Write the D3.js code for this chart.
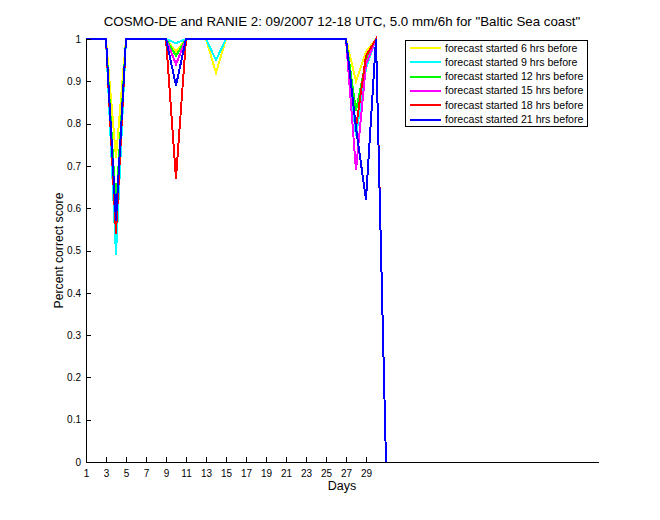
<!DOCTYPE html>
<html><head><meta charset="utf-8">
<script src="https://cdn.jsdelivr.net/npm/d3@7"></script>
<style>
body{margin:0;background:#fff;}
svg{display:block;font-family:"Liberation Sans",Arial,Helvetica,sans-serif;}
</style></head>
<body>
<script>
const days = [1,2,3,4,5,6,7,8,9,10,11,12,13,14,15,16,17,18,19,20,21,22,23,24,25,26,27,28,29,30,31];
const fc6  = [1,1,1,0.72,1,1,1,1,1,0.97,1,1,1,0.92,1,1,1,1,1,1,1,1,1,1,1,1,1,0.90,0.97,1,0];
const fc9  = [1,1,1,0.49,1,1,1,1,1,0.99,1,1,1,0.95,1,1,1,1,1,1,1,1,1,1,1,1,1,0.77,0.93,1,0];
const fc12 = [1,1,1,0.60,1,1,1,1,1,0.96,1,1,1,1,1,1,1,1,1,1,1,1,1,1,1,1,1,0.83,0.95,1,0];
const fc15 = [1,1,1,0.56,1,1,1,1,1,0.94,1,1,1,1,1,1,1,1,1,1,1,1,1,1,1,1,1,0.69,0.94,1,0];
const fc18 = [1,1,1,0.54,1,1,1,1,1,0.67,1,1,1,1,1,1,1,1,1,1,1,1,1,1,1,1,1,0.79,0.96,1,0];
const fc21 = [1,1,1,0.57,1,1,1,1,1,0.89,1,1,1,1,1,1,1,1,1,1,1,1,1,1,1,1,1,0.79,0.62,1,0];
const seriesNames = ["forecast started 6 hrs before","forecast started 9 hrs before","forecast started 12 hrs before","forecast started 15 hrs before","forecast started 18 hrs before","forecast started 21 hrs before"];
const seriesColors = ["#ffff00","#00ffff","#00ff00","#ff00ff","#ff0000","#0000ff"];
const xTicks = [1,3,5,7,9,11,13,15,17,19,21,23,25,27,29];
const yTicks = [0,0.1,0.2,0.3,0.4,0.5,0.6,0.7,0.8,0.9,1];
const titleText = 'COSMO-DE and RANIE 2: 09/2007 12-18 UTC, 5.0 mm/6h for "Baltic Sea coast"';
const series = [fc6,fc9,fc12,fc15,fc18,fc21];

const W=660,H=520;
const m={left:86,right:62,top:39,bottom:58};
const svg=d3.select("body").append("svg").attr("width",W).attr("height",H);
const x=d3.scaleLinear().domain([1,52.2]).range([m.left,W-m.right]);
const y=d3.scaleLinear().domain([0,1]).range([H-m.bottom,m.top]);

const line=d3.line().x((d,i)=>x(days[i])).y(d=>y(d));
series.forEach((s,k)=>{
  svg.append("path").datum(s).attr("d",line).attr("fill","none")
    .attr("stroke",seriesColors[k]).attr("stroke-width",2).attr("stroke-linejoin","miter")
    .attr("shape-rendering","crispEdges");
});

const xa=svg.append("g").attr("transform",`translate(0,${H-m.bottom})`)
  .call(d3.axisBottom(x).tickValues(xTicks).tickSize(-5).tickSizeOuter(0).tickFormat(d3.format("d")));
const ya=svg.append("g").attr("transform",`translate(${m.left},0)`)
  .call(d3.axisLeft(y).tickValues(yTicks).tickSize(-5).tickSizeOuter(0).tickFormat(d=>d===0||d===1?String(d):d3.format(".1f")(d)));
[xa,ya].forEach(a=>{a.selectAll("text").attr("font-size",10).attr("fill","#000").attr("font-family","Liberation Sans, Arial, sans-serif");
  a.selectAll("line,path").attr("stroke","#000").attr("shape-rendering","crispEdges");});
xa.selectAll("text").attr("dy","0.9em").attr("y",6);
ya.selectAll("text").attr("x",-5);

svg.append("text").attr("x",(m.left+W-m.right)/2).attr("y",26).attr("text-anchor","middle")
  .attr("font-size",13.3).text(titleText);
svg.append("text").attr("x",(m.left+W-m.right)/2).attr("y",490).attr("text-anchor","middle")
  .attr("font-size",12.5).text("Days");
svg.append("text").attr("transform",`translate(63,${(m.top+H-m.bottom)/2}) rotate(-90)`)
  .attr("text-anchor","middle").attr("font-size",12.2).text("Percent correct score");

const lg=svg.append("g");
lg.append("rect").attr("x",405.5).attr("y",40.5).attr("width",182).attr("height",86)
  .attr("fill","#fff").attr("stroke","#000").attr("stroke-width",1).attr("shape-rendering","crispEdges");
seriesNames.forEach((n,k)=>{
  const yy=48+k*14.3;
  lg.append("line").attr("x1",410).attr("x2",441).attr("y1",yy).attr("y2",yy)
    .attr("stroke",seriesColors[k]).attr("stroke-width",2).attr("shape-rendering","crispEdges");
  lg.append("text").attr("x",445).attr("y",yy+3.5).attr("font-size",10.6).text(n);
});
</script>
</body></html>
